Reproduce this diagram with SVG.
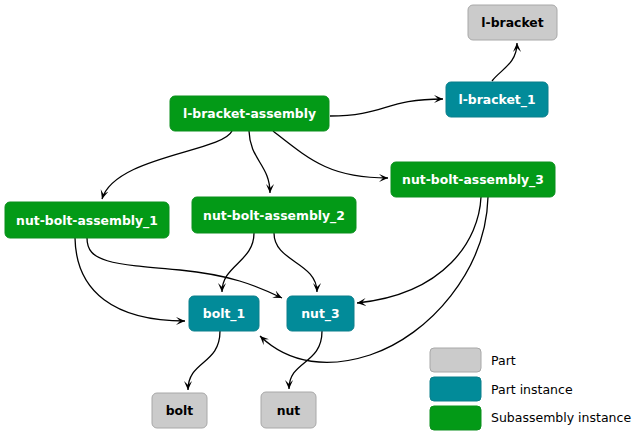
<svg xmlns="http://www.w3.org/2000/svg" width="640" height="442" viewBox="0 0 640 442">
<defs>
<style>
.sub{fill:#039a17;stroke:#0a8f1c;stroke-width:1}
.inst{fill:#028b99;stroke:#0b7f8b;stroke-width:1}
.part{fill:#cbcbcb;stroke:#a8a8a8;stroke-width:1}
.lbl{font-family:"DejaVu Sans",Verdana,sans-serif;font-size:12.4px;font-weight:bold;text-anchor:middle}
.w{fill:#ffffff}
.k{fill:#000000}
.leg{font-family:"DejaVu Sans",Verdana,sans-serif;font-size:12.5px;fill:#000}
.edge{fill:none;stroke:#000;stroke-width:1.3}
</style>
<marker id="arr" viewBox="0 0 10 10" refX="10" refY="5" markerWidth="9" markerHeight="9" markerUnits="userSpaceOnUse" orient="auto">
<path d="M0,0.5 L10,5 L0,9.5 L4.5,5 z" fill="#000"/>
</marker>
</defs>
<rect width="640" height="442" fill="#ffffff"/>
<g id="connectors">
<path class="edge" marker-end="url(#arr)" d="M330,116 C385,116 385,99 443,99"/>
<path class="edge" marker-end="url(#arr)" d="M492,81 C500,70 517,64 517,43"/>
<path class="edge" marker-end="url(#arr)" d="M232,131 C222,152 115,156 102,199"/>
<path class="edge" marker-end="url(#arr)" d="M249,131 C250,160 270,165 270,193"/>
<path class="edge" marker-end="url(#arr)" d="M273,131 C310,160 330,178 388,178"/>
<path class="edge" marker-end="url(#arr)" d="M75,238 C76,292 115,321 185,321"/>
<path class="edge" marker-end="url(#arr)" d="M87,238 C87,262 110,264 180,270 C230,275 255,285 282,298"/>
<path class="edge" marker-end="url(#arr)" d="M254,233 C254,262 222,265 222,292"/>
<path class="edge" marker-end="url(#arr)" d="M274,233 C274,262 317,262 317,292"/>
<path class="edge" marker-end="url(#arr)" d="M481,197 C479,240 445,294 357,303"/>
<path class="edge" marker-end="url(#arr)" d="M488,197 C486,270 430,335 370,355 C330,368 290,365 260,336"/>
<path class="edge" marker-end="url(#arr)" d="M220,331 C220,365 188,360 188,390"/>
<path class="edge" marker-end="url(#arr)" d="M322,331 C322,365 289,360 289,389"/>
</g>
<g id="l-bracket"><rect class="part" x="468" y="5" width="89" height="35" rx="5"/><text class="lbl k" x="512.5" y="27">l-bracket</text></g>
<g id="l-bracket_1"><rect class="inst" x="446" y="82" width="102" height="35" rx="5"/><text class="lbl w" x="497" y="104">l-bracket_1</text></g>
<g id="l-bracket-assembly"><rect class="sub" x="170" y="96" width="159" height="35" rx="5"/><text class="lbl w" x="249.5" y="118">l-bracket-assembly</text></g>
<g id="nut-bolt-assembly_3"><rect class="sub" x="391" y="162" width="164" height="35" rx="5"/><text class="lbl w" x="473" y="184">nut-bolt-assembly_3</text></g>
<g id="nut-bolt-assembly_1"><rect class="sub" x="5" y="202" width="164" height="36" rx="5"/><text class="lbl w" x="87" y="224.5">nut-bolt-assembly_1</text></g>
<g id="nut-bolt-assembly_2"><rect class="sub" x="192" y="197" width="164" height="36" rx="5"/><text class="lbl w" x="274" y="219.5">nut-bolt-assembly_2</text></g>
<g id="bolt_1"><rect class="inst" x="189" y="296" width="70" height="35" rx="5"/><text class="lbl w" x="224" y="318">bolt_1</text></g>
<g id="nut_3"><rect class="inst" x="287" y="296" width="67" height="35" rx="5"/><text class="lbl w" x="320.5" y="318">nut_3</text></g>
<g id="bolt"><rect class="part" x="152" y="393" width="55" height="35" rx="5"/><text class="lbl k" x="179.5" y="415">bolt</text></g>
<g id="nut"><rect class="part" x="261" y="392" width="55" height="36" rx="5"/><text class="lbl k" x="288.5" y="414.5">nut</text></g>
<g id="legend">
<rect class="part" x="430" y="348" width="51" height="24" rx="4"/>
<text class="leg" x="491" y="364.5">Part</text>
<rect class="inst" x="430" y="377" width="51" height="24" rx="4"/>
<text class="leg" x="491" y="393.5">Part instance</text>
<rect class="sub" x="430" y="406" width="51" height="24" rx="4"/>
<text class="leg" x="491" y="422">Subassembly instance</text>
</g>
</svg>
